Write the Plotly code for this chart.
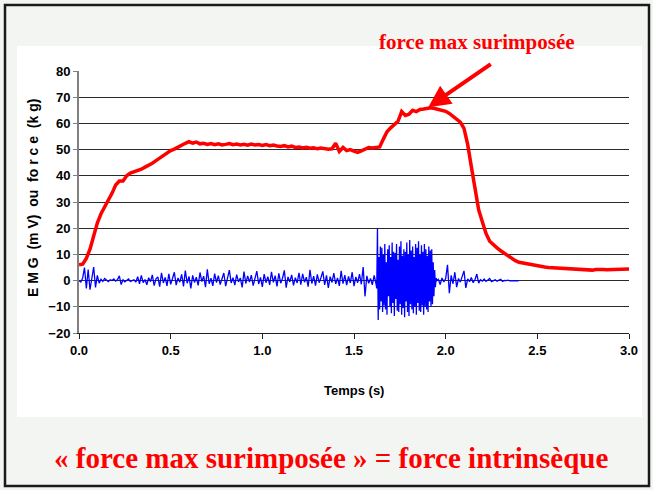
import numpy as np
import plotly.graph_objects as go

# ---------------- data ----------------
force_dt = 0.02
force_values = [
    6.0, 6.3, 8.5, 12.0, 17.0, 22.0, 25.5, 28.0, 30.5, 33.3,
    36.5, 38.0, 38.0, 40.0, 41.0, 41.5, 41.8, 42.5, 43.3, 44.0,
    44.8, 45.8, 46.8, 47.6, 48.6, 49.6, 50.2, 51.0, 51.8, 52.4,
    53.0, 52.5, 52.9, 52.2, 52.4, 52.0, 52.3, 51.9, 52.2, 51.8,
    52.0, 52.3, 51.9, 52.1, 51.8, 52.0, 51.7, 52.1, 51.8, 51.9,
    51.6, 51.9, 51.5, 51.7, 51.4, 51.2, 51.5, 51.0, 51.3, 50.8,
    51.0, 50.6, 50.9, 50.5, 50.7, 50.3, 50.6, 50.4, 50.1, 50.3,
    52.4, 49.3, 50.8, 49.6, 50.0, 49.4, 48.9, 49.5, 50.3, 50.8,
    50.6, 50.8, 51.0, 54.0, 56.8, 58.3, 59.5, 60.8, 64.5, 63.0,
    63.5, 65.0, 64.5, 65.3, 65.5, 65.8, 66.0, 65.7, 65.3, 65.0,
    64.6, 63.8, 62.6, 61.6, 60.5, 58.1, 52.0, 43.5, 34.5, 27.0,
    22.5, 18.0, 15.0, 13.6, 12.5, 11.4, 10.4, 9.4, 8.4, 7.6,
    7.0, 6.7, 6.4, 6.1, 5.8, 5.6, 5.4, 5.2, 5.0, 4.9,
    4.8, 4.7, 4.6, 4.5, 4.4, 4.3, 4.2, 4.0, 3.9, 3.8,
    4.0, 4.2, 4.3, 4.2, 4.1, 4.1, 4.2, 4.4, 4.3, 4.4,
    4.4,
]

# EMG: resting part (0.00-1.62 s, step 0.01)
emg_rest = [
    0.0, -0.5, 1.0, 5.0, -3.0, 4.2, -3.5, 1.5, 5.2, -2.6,
    2.0, -1.0, 0.5, -0.3, 0.8, 0.2, -0.4, 0.3, 0.0, 0.6,
    -0.2, 0.4, 1.8, -1.5, 0.3, -0.5, 0.2, 0.6, -0.3, 0.1,
    0.3, -0.6, 1.5, -1.2, 2.0, -0.8, 0.4, -1.6, 1.1, -0.4,
    2.2, -1.9, 0.7, 1.4, -2.3, 3.0, -0.9, 1.2, -2.0, 2.6,
    -1.4, 0.8, 3.2, -1.7, 1.0, -0.6, 2.4, -2.2, 3.8, -1.0,
    1.6, -3.0, 2.0, -0.7, 1.3, -1.8, 3.1, -0.4, 1.7, -2.5,
    4.3, -1.2, 0.9, -2.0, 2.7, -0.8, 1.9, -1.5, 0.6, 2.9,
    -2.1, 1.4, 4.0, -0.9, 1.1, -1.7, 2.3, -0.5, 1.0, -2.6,
    3.4, -1.1, 1.8, -0.6, 2.1, -1.9, 0.7, 3.6, -1.3, 1.2,
    -2.4, 2.5, -0.8, 1.5, -1.6, 3.3, -0.7, 1.9, -2.2, 2.8,
    -1.0, 0.9, 3.9, -2.7, 1.4, -0.5, 2.2, -1.8, 1.1, -0.9,
    3.0, -1.5, 2.6, -0.6, 1.3, -2.3, 4.1, -1.1, 1.7, -1.9,
    2.4, -0.8, 1.2, 3.5, -1.6, 2.0, -2.8, 1.5, -0.7, 2.9,
    -1.3, 1.0, -2.0, 3.7, -1.2, 2.1, -1.7, 1.6, -0.9, 3.2,
    -2.1, 1.4, -0.8, 2.5, -1.4, 5.2, -6.0, 1.8, -1.0, 0.8,
    -1.6, 2.0, -1.2,
]
# EMG: superimposed twitch burst (1.624-1.952 s, step 0.004)
emg_burst = [
    -3.0, 20.0, -15.0, 9.0, -11.0, 13.0, -8.0, 12.5, -12.0, 10.0,
    -9.5, 14.0, -11.0, 7.0, -13.0, 12.0, -6.0, 13.5, -10.0, 9.0,
    -12.5, 14.5, -8.5, 11.0, -13.5, 10.5, -7.0, 14.0, -11.5, 8.0,
    -12.0, 13.0, -9.0, 15.0, -13.0, 9.5, -10.5, 12.0, -14.0, 11.0,
    -8.0, 14.5, -12.0, 10.0, -13.5, 15.5, -9.0, 11.5, -11.0, 13.0,
    -12.5, 9.0, -10.0, 14.0, -13.0, 12.5, -8.5, 15.0, -11.5, 10.0,
    -12.0, 13.5, -9.5, 11.0, -13.0, 14.0, -10.0, 12.0, -11.0, 9.5,
    -12.0, 13.0, -8.0, 11.5, -10.0, 12.0, -9.0, 7.0, -6.0, 4.0,
    -2.5, 1.0, 0.0,
]
# EMG: after burst (1.96-2.40 s, step 0.01)
emg_after = [
    0.5, -1.5, 1.0, -0.5, 0.8, 6.0, -4.8, 2.0, -1.2, 3.2,
    -2.5, 0.8, -0.6, 1.5, 3.7, -2.8, 0.7, -0.4, 1.2, -0.8,
    0.4, 2.5, -1.0, 0.3, -0.2, 0.6, -0.3, 0.2, 0.8, -0.4,
    0.1, 0.3, -0.2, 0.1, 0.5, -0.3, 0.1, 0.0, 0.2, -0.1,
    0.0, 0.1, 0.0, -0.1, 0.0,
]

x_ticks = [0.0, 0.5, 1.0, 1.5, 2.0, 2.5, 3.0]
y_ticks = [-20, -10, 0, 10, 20, 30, 40, 50, 60, 70, 80]

# ---------------- sampling grids ----------------
force_t = np.round(np.arange(len(force_values)) * force_dt, 3)
emg_t = np.concatenate([
    np.round(np.arange(len(emg_rest)) * 0.01, 3),
    np.round(1.624 + np.arange(len(emg_burst)) * 0.004, 3),
    np.round(1.96 + np.arange(len(emg_after)) * 0.01, 3),
])
emg_values = emg_rest + emg_burst + emg_after

# ---------------- layout helpers ----------------
W, H = 653, 490
L, R, T, B = 79, 629, 71, 333  # plot area in pixels


def px(x):
    return (x - L) / (R - L)


def py(y):
    return (B - y) / (B - T)


TICKFONT = dict(family="Liberation Sans Narrow, Arial Narrow, Liberation Sans, Arial",
                size=13, color="black", weight="bold")

fig = go.Figure()
fig.add_trace(go.Scatter(x=emg_t, y=emg_values, mode="lines",
                         line=dict(color="#0000ff", width=1.3), showlegend=False))
fig.add_trace(go.Scatter(x=force_t, y=force_values, mode="lines",
                         line=dict(color="#ff0000", width=3.5), showlegend=False))

fig.update_layout(
    width=W, height=H,
    margin=dict(l=L, r=W - R, t=T, b=H - B),
    paper_bgcolor="#f3f5f3",
    plot_bgcolor="white",
    showlegend=False,
    xaxis=dict(range=[0, 3], tickvals=x_ticks, ticktext=[f"{v:.1f}" for v in x_ticks],
               showgrid=False, zeroline=False, showline=True, linecolor="#222",
               linewidth=1, ticks="outside", ticklen=5, tickcolor="#222",
               tickfont=TICKFONT),
    yaxis=dict(range=[-20, 80], tickvals=y_ticks, showgrid=True, gridcolor="#2a2a2a",
               gridwidth=1, zeroline=False, showline=True, linecolor="#808080",
               linewidth=2, ticks="outside", ticklen=4, tickcolor="#808080",
               tickfont=TICKFONT),
    shapes=[
        dict(type="rect", xref="paper", yref="paper", layer="below",
             x0=px(17), x1=px(642), y0=py(417), y1=py(46),
             fillcolor="white", line=dict(width=0)),
        dict(type="rect", xref="paper", yref="paper", layer="above",
             x0=px(5), x1=px(649), y0=py(486), y1=py(5),
             fillcolor="rgba(0,0,0,0)", line=dict(color="#1a1a1a", width=2.5)),
    ],
    annotations=[
        dict(text="Temps (s)", xref="paper", yref="paper", x=px(354), y=py(390),
             showarrow=False, xanchor="center", yanchor="middle",
             font=dict(family="Liberation Sans Narrow, Arial Narrow, Liberation Sans, Arial",
                       size=13, color="black", weight="bold")),
        dict(text="E\u00a0M\u00a0G\u00a0\u00a0(m\u00a0V)\u00a0\u00a0ou\u00a0\u00a0fo\u00a0r\u00a0c\u00a0e\u00a0\u00a0(k\u00a0g)",
             xref="paper", yref="paper", x=px(33), y=py(198), textangle=-90,
             showarrow=False, xanchor="center", yanchor="middle",
             font=dict(family="Liberation Sans, Arial", size=14, color="black", weight="bold")),
        dict(text="force max surimposée", xref="paper", yref="paper", x=px(477), y=py(42),
             showarrow=False, xanchor="center", yanchor="middle",
             font=dict(family="Liberation Serif, Times New Roman", size=21, color="#ff0000",
                       weight="bold")),
        dict(text="", x=1.905, y=66.2, xref="x", yref="y", showarrow=True,
             ax=64, ay=-44, axref="pixel", ayref="pixel",
             arrowhead=2, arrowsize=1.1, arrowwidth=4, arrowcolor="#ff0000", standoff=0),
        dict(text="« force max surimposée » = force intrinsèque", xref="paper", yref="paper",
             x=px(331), y=py(458), showarrow=False, xanchor="center", yanchor="middle",
             font=dict(family="Liberation Serif, Times New Roman", size=29, color="#ff0000",
                       weight="bold")),
    ],
)

fig.write_html("out.html", config={"displayModeBar": False},
               post_script="document.body.style.margin='0';")
